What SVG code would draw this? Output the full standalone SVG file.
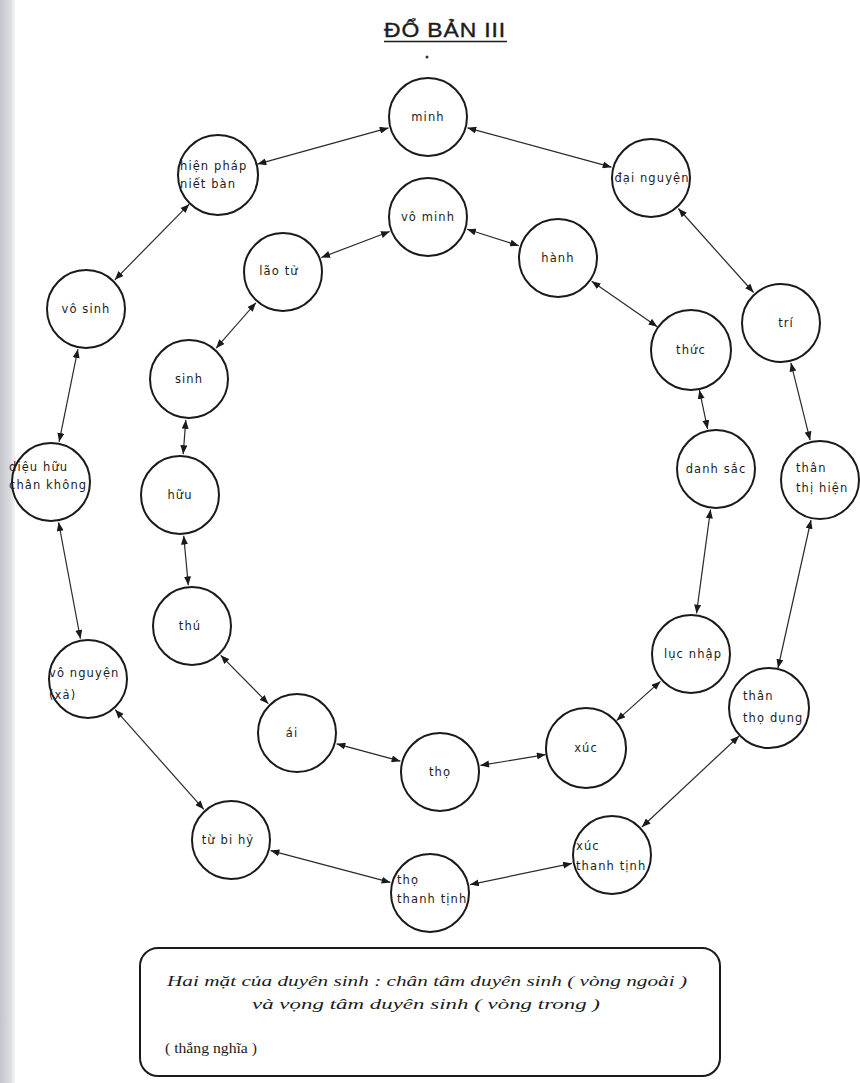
<svg xmlns="http://www.w3.org/2000/svg" width="860" height="1083" viewBox="0 0 860 1083">
<defs>
<linearGradient id="edge" x1="0" y1="0" x2="1" y2="0">
<stop offset="0" stop-color="#c4c5cb"/>
<stop offset="0.7" stop-color="#dcdde1"/>
<stop offset="1" stop-color="#f6f6f7"/>
</linearGradient>
<marker id="ah" viewBox="0 0 10 8" refX="10" refY="4" markerWidth="9" markerHeight="7" markerUnits="userSpaceOnUse" orient="auto-start-reverse">
<path d="M0,0 L10,4 L0,8 z" fill="#1a1a1a"/>
</marker>
<style>
.n circle{fill:#fff;stroke:#1a1a1a;stroke-width:2}
.n text{font-family:"DejaVu Sans","Liberation Sans",sans-serif;font-size:11.5px;letter-spacing:1.1px;fill:#1c1c1c}
.c{text-anchor:middle}
#connectors line{stroke:#2a2a2a;stroke-width:1.2;marker-start:url(#ah);marker-end:url(#ah)}
.note{font-family:"Liberation Serif","Times New Roman",serif;font-size:15.5px;fill:#1c1c1c}
</style>
</defs>
<rect x="0" y="0" width="860" height="1083" fill="#fff"/>
<rect x="0" y="0" width="15" height="1083" fill="url(#edge)"/>

<g id="title">
<text x="445" y="37" text-anchor="middle" font-family="Liberation Sans, Arial, sans-serif" font-size="21" letter-spacing="0.8" fill="#1c1c1c" stroke="#1c1c1c" stroke-width="0.4" textLength="122" lengthAdjust="spacingAndGlyphs">ĐỔ BẢN III</text>
<line x1="384" y1="41.5" x2="507" y2="41.5" stroke="#1c1c1c" stroke-width="1.6"/>
<circle cx="427" cy="57" r="1.5" fill="#333"/>
</g>

<g id="connectors">
<line x1="467.5" y1="127.8" x2="611.5" y2="167.2"/>
<line x1="678.4" y1="208.5" x2="753.6" y2="292.5"/>
<line x1="790.9" y1="362.8" x2="810.1" y2="440.2"/>
<line x1="811.0" y1="520.0" x2="778.0" y2="668.0"/>
<line x1="739.1" y1="736.0" x2="641.9" y2="827.0"/>
<line x1="571.9" y1="863.4" x2="470.1" y2="884.6"/>
<line x1="390.4" y1="882.4" x2="270.6" y2="850.6"/>
<line x1="203.8" y1="809.3" x2="115.2" y2="709.7"/>
<line x1="80.4" y1="638.7" x2="58.6" y2="522.3"/>
<line x1="59.1" y1="441.8" x2="77.9" y2="349.2"/>
<line x1="114.8" y1="279.8" x2="189.2" y2="204.2"/>
<line x1="257.5" y1="164.1" x2="388.5" y2="127.9"/>

<line x1="467.1" y1="229.3" x2="518.9" y2="245.7"/>
<line x1="591.7" y1="281.3" x2="657.3" y2="326.7"/>
<line x1="699.4" y1="390.1" x2="707.6" y2="428.9"/>
<line x1="710.5" y1="509.6" x2="696.5" y2="613.4"/>
<line x1="660.4" y1="681.4" x2="616.6" y2="720.6"/>
<line x1="545.6" y1="754.6" x2="480.4" y2="765.4"/>
<line x1="400.4" y1="761.2" x2="336.6" y2="743.8"/>
<line x1="268.3" y1="703.7" x2="220.7" y2="655.3"/>
<line x1="188.3" y1="585.2" x2="183.7" y2="535.8"/>
<line x1="183.2" y1="454.1" x2="185.8" y2="419.9"/>
<line x1="216.1" y1="348.2" x2="255.9" y2="302.8"/>
<line x1="321.3" y1="257.5" x2="389.7" y2="231.5"/>
</g>

<!-- outer ring -->
<g id="minh" class="n"><circle cx="428" cy="117" r="39"/><text class="c" x="428" y="121">minh</text></g>
<g id="dai-nguyen" class="n"><circle cx="651" cy="178" r="39"/><text class="c" x="652" y="182">đại nguyện</text></g>
<g id="tri" class="n"><circle cx="781" cy="323" r="39"/><text class="c" x="786" y="327">trí</text></g>
<g id="than-thi-hien" class="n"><circle cx="820" cy="480" r="39"/><text x="796" y="472">thân</text><text x="796" y="492">thị hiện</text></g>
<g id="than-tho-dung" class="n"><circle cx="769" cy="708" r="40"/><text x="743" y="700">thân</text><text x="743" y="722">thọ dụng</text></g>
<g id="xuc-thanh-tinh" class="n"><circle cx="612" cy="855" r="39"/><text x="576" y="850">xúc</text><text x="576" y="870">thanh tịnh</text></g>
<g id="tho-thanh-tinh" class="n"><circle cx="430" cy="893" r="39"/><text x="397" y="884">thọ</text><text x="397" y="903">thanh tịnh</text></g>
<g id="tu-bi-hy" class="n"><circle cx="231" cy="840" r="39"/><text class="c" x="228" y="844">từ bi hỷ</text></g>
<g id="vo-nguyen" class="n"><circle cx="88" cy="679" r="39"/><text x="49" y="677">vô nguyện</text><text x="49" y="699">(xả)</text></g>
<g id="dieu-huu" class="n"><circle cx="51" cy="482" r="39"/><text x="9" y="471">diệu hữu</text><text x="9" y="489">chân không</text></g>
<g id="vo-sinh" class="n"><circle cx="86" cy="309" r="39"/><text class="c" x="86" y="313">vô sinh</text></g>
<g id="hien-phap" class="n"><circle cx="218" cy="175" r="40"/><text x="180" y="170">hiện pháp</text><text x="180" y="188">niết bàn</text></g>

<!-- inner ring -->
<g id="vo-minh" class="n"><circle cx="428" cy="217" r="39"/><text class="c" x="428" y="221">vô minh</text></g>
<g id="hanh" class="n"><circle cx="558" cy="258" r="39"/><text class="c" x="558" y="262">hành</text></g>
<g id="thuc" class="n"><circle cx="691" cy="350" r="40"/><text class="c" x="691" y="354">thức</text></g>
<g id="danh-sac" class="n"><circle cx="716" cy="469" r="39"/><text class="c" x="716" y="473">danh sắc</text></g>
<g id="luc-nhap" class="n"><circle cx="691" cy="654" r="39"/><text class="c" x="693" y="658">lục nhập</text></g>
<g id="xuc" class="n"><circle cx="586" cy="748" r="40"/><text class="c" x="586" y="752">xúc</text></g>
<g id="tho" class="n"><circle cx="440" cy="772" r="39"/><text class="c" x="440" y="776">thọ</text></g>
<g id="ai" class="n"><circle cx="297" cy="733" r="39"/><text class="c" x="292" y="737">ái</text></g>
<g id="thu" class="n"><circle cx="192" cy="626" r="39"/><text class="c" x="190" y="630">thú</text></g>
<g id="huu" class="n"><circle cx="180" cy="495" r="39"/><text class="c" x="180" y="499">hữu</text></g>
<g id="sinh" class="n"><circle cx="189" cy="379" r="39"/><text class="c" x="189" y="383">sinh</text></g>
<g id="lao-tu" class="n"><circle cx="283" cy="272" r="39"/><text class="c" x="279" y="275">lão tử</text></g>

<g id="legend">
<rect x="140" y="948" width="580" height="128" rx="18" ry="18" fill="#fff" stroke="#1a1a1a" stroke-width="2"/>
<text class="note" x="167" y="986" font-style="italic" textLength="520" lengthAdjust="spacingAndGlyphs">Hai mặt của duyên sinh : chân tâm duyên sinh ( vòng ngoài )</text>
<text class="note" x="252" y="1009" font-style="italic" textLength="348" lengthAdjust="spacingAndGlyphs">và vọng tâm duyên sinh ( vòng trong )</text>
<text class="note" x="165" y="1053" textLength="92" lengthAdjust="spacingAndGlyphs">( thắng nghĩa )</text>
</g>
</svg>
